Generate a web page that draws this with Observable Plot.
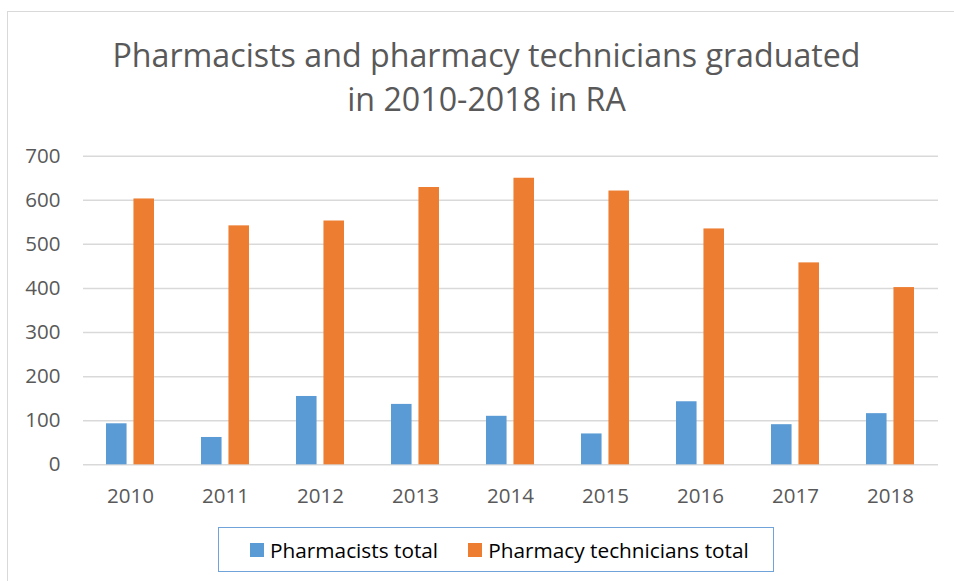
<!DOCTYPE html>
<html>
<head>
<meta charset="utf-8">
<script src="https://cdn.jsdelivr.net/npm/d3@7"></script>
<script src="https://cdn.jsdelivr.net/npm/@observablehq/plot@0.6"></script>
<style>
  html, body { margin: 0; padding: 0; background: #fff; overflow: hidden; }
  #page { position: relative; width: 954px; height: 581px; overflow: hidden; font-family: "Open Sans", sans-serif; }
  #frame { position: absolute; left: 7px; top: 11px; width: 1200px; height: 800px; border-left: 1px solid #d9d9d9; border-top: 1px solid #d9d9d9; }
  #title { position: absolute; left: 0; top: 33px; width: 973px; text-align: center; color: #595959; font-size: 32.2px; line-height: 44px; }
  #chart { position: absolute; left: 0; top: 140px; }
  #legend { position: absolute; left: 218px; top: 527px; width: 556px; height: 45px; border: 1.5px solid #6fa3da; display: flex; align-items: center; padding-left: 31px; box-sizing: border-box; font-size: 20.8px; color: #000; }
  #legend .item { display: flex; align-items: center; }
  #legend .sw { width: 14px; height: 14px; margin-right: 6px; }
</style>
</head>
<body>
<div id="page">
  <div id="frame"></div>
  <div id="title">Pharmacists and pharmacy technicians graduated<br>in 2010-2018 in RA</div>
  <div id="chart"></div>
  <div id="legend"></div>
</div>
<script>
const years = ["2010", "2011", "2012", "2013", "2014", "2015", "2016", "2017", "2018"];
const pharmacists = [93, 62, 155, 137, 110, 70, 143, 91, 116];
const technicians = [603, 542, 553, 629, 650, 621, 535, 458, 402];
const seriesNames = ["Pharmacists total", "Pharmacy technicians total"];
const seriesColors = ["#5B9BD5", "#ED7D31"];
const yTicks = [0, 100, 200, 300, 400, 500, 600, 700];

const dataP = years.map((y, i) => ({year: y, value: pharmacists[i], series: seriesNames[0]}));
const dataT = years.map((y, i) => ({year: y, value: technicians[i], series: seriesNames[1]}));

const width = 954, height = 380;
const marginLeft = 83, marginRight = 16, marginTop = 15.7, marginBottom = 55.7;
const xPadInner = 0.49, xPadOuter = 0.245;
const step = (width - marginLeft - marginRight) / (years.length - xPadInner + 2 * xPadOuter);
const bandW = step * (1 - xPadInner);
const barW = 21;

const chart = Plot.plot({
  width, height, marginLeft, marginRight, marginTop, marginBottom,
  style: {fontFamily: "'Open Sans', sans-serif", background: "transparent"},
  x: {type: "band", domain: years, paddingInner: xPadInner, paddingOuter: xPadOuter, label: null},
  y: {domain: [0, 700], label: null},
  color: {domain: seriesNames, range: seriesColors},
  marks: [
    Plot.gridY(yTicks, {stroke: "#d9d9d9", strokeOpacity: 1, strokeWidth: 1.5}),
    Plot.barY(dataP, {x: "year", y: "value", fill: "series", insetRight: bandW - barW}),
    Plot.barY(dataT, {x: "year", y: "value", fill: "series", insetLeft: bandW - barW}),
    Plot.axisY(yTicks, {tickSize: 0, tickPadding: 23, fontSize: 20.5, fill: "#595959", label: null}),
    Plot.axisX({tickSize: 0, tickPadding: 24, fontSize: 20.5, fill: "#595959", label: null})
  ]
});
document.getElementById("chart").appendChild(chart);

const legend = document.getElementById("legend");
seriesNames.forEach((name, i) => {
  const item = document.createElement("div");
  item.className = "item";
  if (i > 0) item.style.marginLeft = "30px";
  const sw = document.createElement("div");
  sw.className = "sw";
  sw.style.background = seriesColors[i];
  const t = document.createElement("span");
  t.textContent = name;
  item.appendChild(sw);
  item.appendChild(t);
  legend.appendChild(item);
});
</script>
</body>
</html>
